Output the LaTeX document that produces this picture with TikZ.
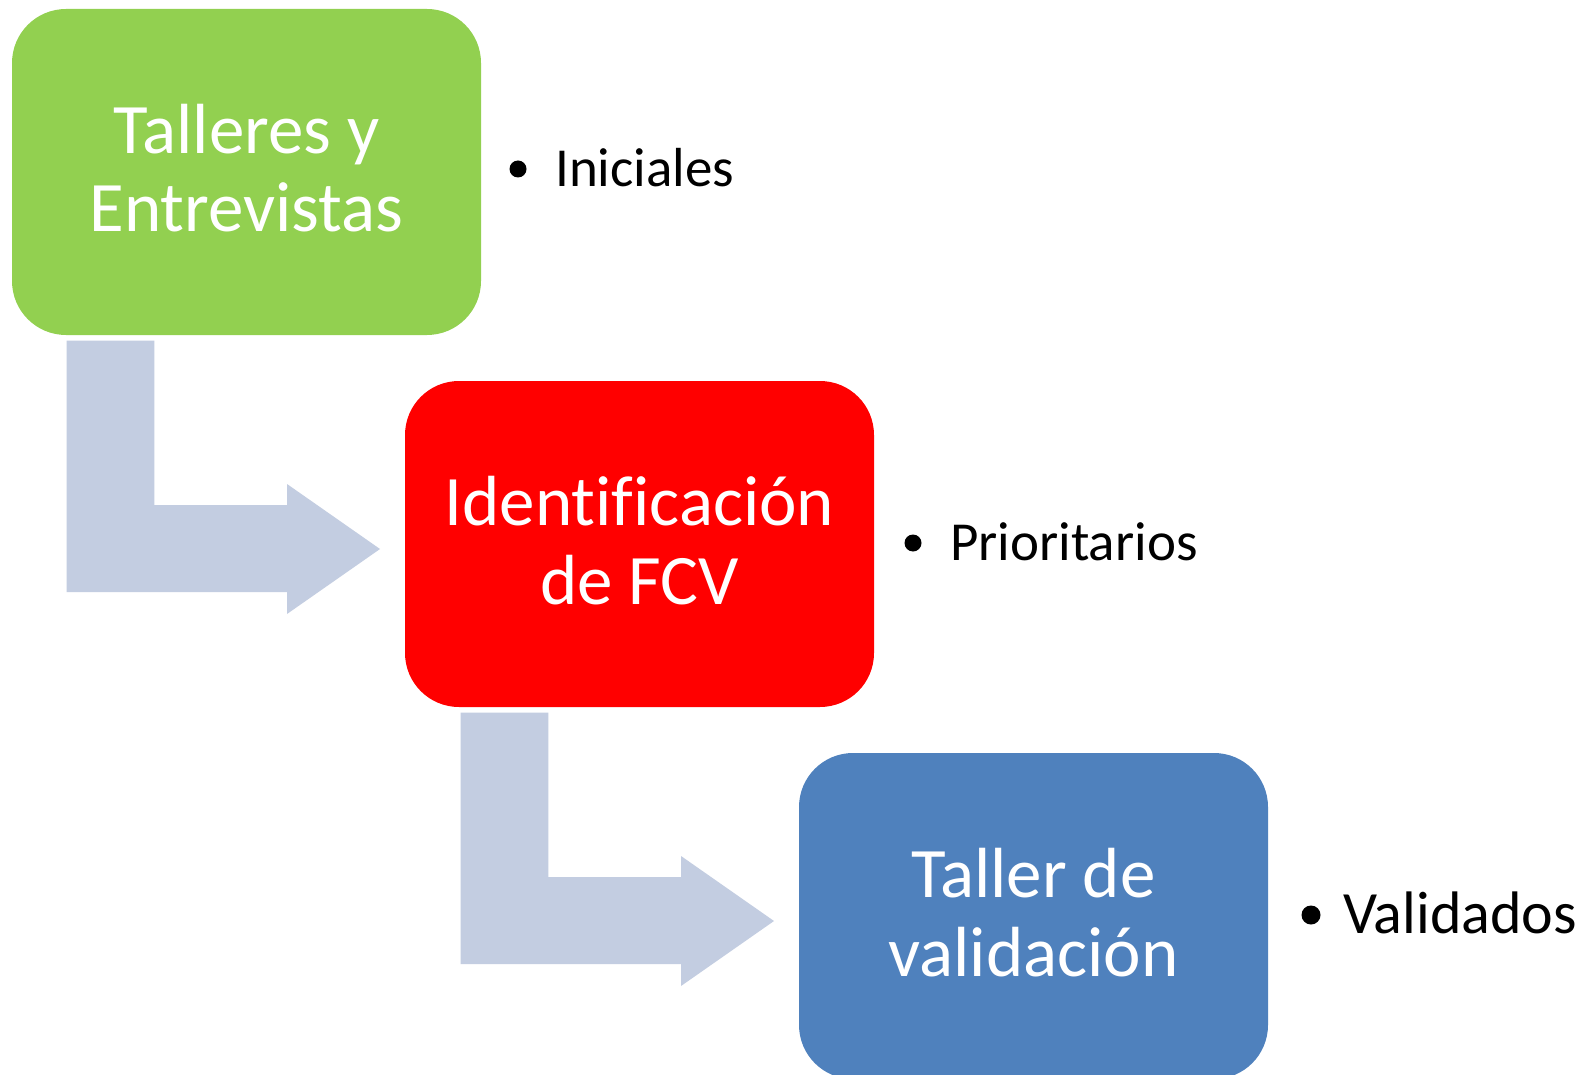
\documentclass[tikz,border=0pt]{standalone}
\usepackage{fontspec}
\setmainfont[Ligatures={NoCommon}]{Carlito}
\definecolor{gbox}{RGB}{146,208,80}
\definecolor{rbox}{RGB}{255,0,0}
\definecolor{bbox}{RGB}{79,129,189}
\definecolor{arrowc}{RGB}{195,205,225}
\tikzset{
  stagebox/.style={draw=none, minimum width=469pt, minimum height=326pt, rounded corners=54pt, inner sep=0pt},
  boxtext/.style={text=white, font=\fontsize{71}{79}\selectfont, anchor=base, inner sep=0pt},
  bullettext/.style={text=black, font=\fontsize{55}{62}\selectfont, anchor=base west, inner sep=0pt},
  bulletdot/.style={circle, fill=black, minimum size=17pt, inner sep=0pt},
  bentarrow/.style={fill=arrowc, draw=none}
}
\begin{document}
\begin{tikzpicture}[x=1pt,y=-1pt]
\clip (0,0) rectangle (1587,1075);
\fill[white] (0,0) rectangle (1587,1075);

% boxes
\node[stagebox, fill=gbox] (g) at (246.5,172) {};
\node[stagebox, fill=rbox] (r) at (639.5,544) {};
\node[stagebox, fill=bbox] (b) at (1033.5,916) {};

% box texts
\node[boxtext] (g1) at ([yshift=18pt]g.center) {Talleres y};
\node[boxtext] (g2) at ([yshift=-60pt]g.center) {Entrevistas};
\node[boxtext] (r1) at ([yshift=19pt]r.center) {Identificación};
\node[boxtext] (r2) at ([yshift=-60pt]r.center) {de FCV};
\node[boxtext] (b1) at ([yshift=19pt]b.center) {Taller de};
\node[boxtext] (b2) at ([yshift=-60pt]b.center) {validación};

% bent arrows
\fill[bentarrow] (66.7,340.7) -- (154.3,340.7) -- (154.3,505) -- (287,505) -- (287,484)
  -- (380,549) -- (287,614) -- (287,592) -- (66.7,592) -- cycle;
\fill[bentarrow] (460.7,712.7) -- (548.3,712.7) -- (548.3,877) -- (681,877) -- (681,856)
  -- (774,921) -- (681,986) -- (681,964) -- (460.7,964) -- cycle;

% bullets
\node[bulletdot] (d1) at (518,169) {};
\node[bullettext] (t1) at (555,187) {Iniciales};
\node[bulletdot] (d2) at (913,543) {};
\node[bullettext] (t2) at (950,560) {Prioritarios};
\node[bulletdot, minimum size=19pt] (d3) at (1311,915) {};
\node[bullettext, font=\fontsize{60}{66}\selectfont] (t3) at (1343,933) {Validados};
\end{tikzpicture}
\end{document}
